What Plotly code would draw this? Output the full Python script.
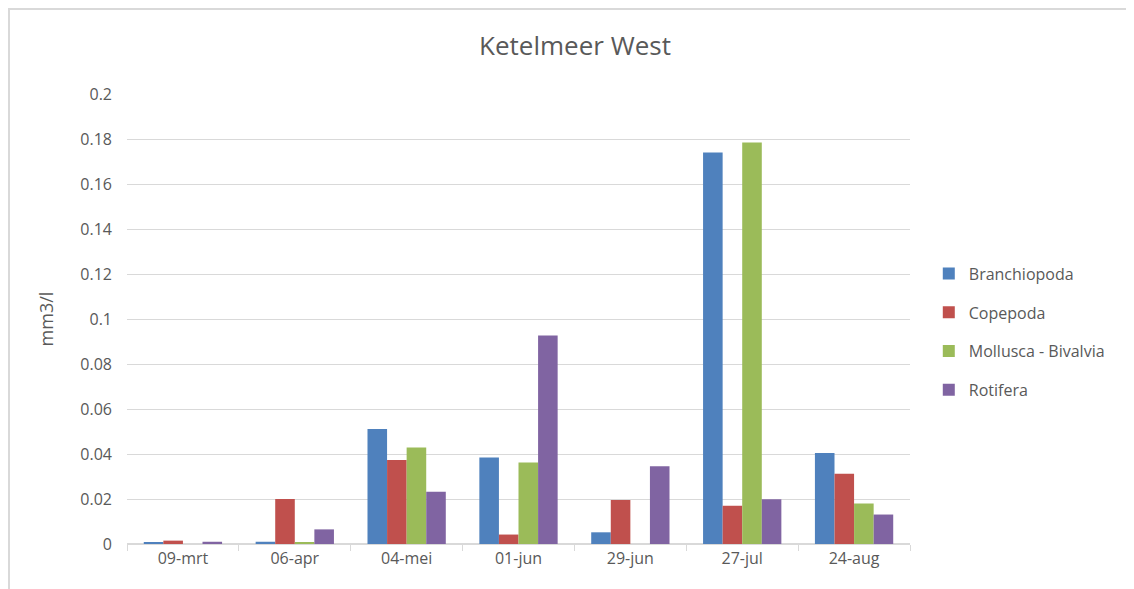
import plotly.graph_objs as go

dates = ['09-mrt', '06-apr', '04-mei', '01-jun', '29-jun', '27-jul', '24-aug']

branchiopoda = [0.0008, 0.001, 0.0511, 0.0384, 0.0052, 0.174, 0.0405]
copepoda = [0.0015, 0.020, 0.0373, 0.0042, 0.0196, 0.0170, 0.0312]
mollusca = [0.0, 0.0008, 0.0429, 0.0362, 0.0, 0.1784, 0.0180]
rotifera = [0.001, 0.0065, 0.0232, 0.0927, 0.0346, 0.0199, 0.0131]

series = [
    ('Branchiopoda', branchiopoda, '#4f81bd'),
    ('Copepoda', copepoda, '#c0504d'),
    ('Mollusca - Bivalvia', mollusca, '#9bbb59'),
    ('Rotifera', rotifera, '#8064a2'),
]

grey = '#595959'
font_family = 'Open Sans, Noto Sans, sans-serif'

data = []
for name, vals, col in series:
    data.append(go.Bar(
        x=dates, y=vals, name=name, legendgroup=name,
        marker=dict(color=col, line=dict(width=0)),
    ))

# page body has an 8px margin, so the figure is drawn 8px in from the corner
W, H = 1126, 581
L, T = 119, 86
PW, PH = 783, 450

layout = go.Layout(
    autosize=False,
    width=W,
    height=H,
    margin=dict(l=L, r=W - L - PW, t=T, b=H - T - PH),
    plot_bgcolor='#FFFFFF',
    paper_bgcolor='#FFFFFF',
    font=dict(family=font_family, color=grey, size=16),
    title=dict(text='Ketelmeer West', x=567 / W, xanchor='center',
               y=1 - 38 / H, yanchor='middle', font=dict(size=26, color=grey)),
    barmode='group',
    bargap=0.3,
    bargroupgap=0,
    showlegend=True,
    legend=dict(x=1.024, y=0.471, xanchor='left', yanchor='middle',
                font=dict(size=16, color=grey), tracegroupgap=15,
                traceorder='grouped', itemwidth=30),
    xaxis=dict(
        type='category', showgrid=False, showline=True, linecolor='#d9d9d9', linewidth=1,
        ticks='outside', tickson='boundaries', tickcolor='#d9d9d9', ticklen=6,
        tickfont=dict(size=16, color=grey),
    ),
    yaxis=dict(
        range=[0, 0.2], dtick=0.02, tickformat='~g', showgrid=True, gridcolor='#d9d9d9',
        gridwidth=1, zeroline=True, zerolinecolor='#d9d9d9', showline=False,
        ticklabelstandoff=14, tickfont=dict(size=16, color=grey),
        title=dict(text='mm3/l', font=dict(size=18, color=grey), standoff=22),
    ),
    shapes=[
        dict(type='line', xref='paper', yref='paper',
             x0=(0 - L) / PW, x1=(W - L) / PW,
             y0=1 + (T - 1) / PH, y1=1 + (T - 1) / PH,
             line=dict(color='#d9d9d9', width=2)),
        dict(type='line', xref='paper', yref='paper',
             x0=(1 - L) / PW, x1=(1 - L) / PW,
             y0=1 + T / PH, y1=-(H - T - PH) / PH,
             line=dict(color='#d9d9d9', width=2)),
    ],
)

fig = go.Figure(data=data, layout=layout)
fig.write_html('out.html')
